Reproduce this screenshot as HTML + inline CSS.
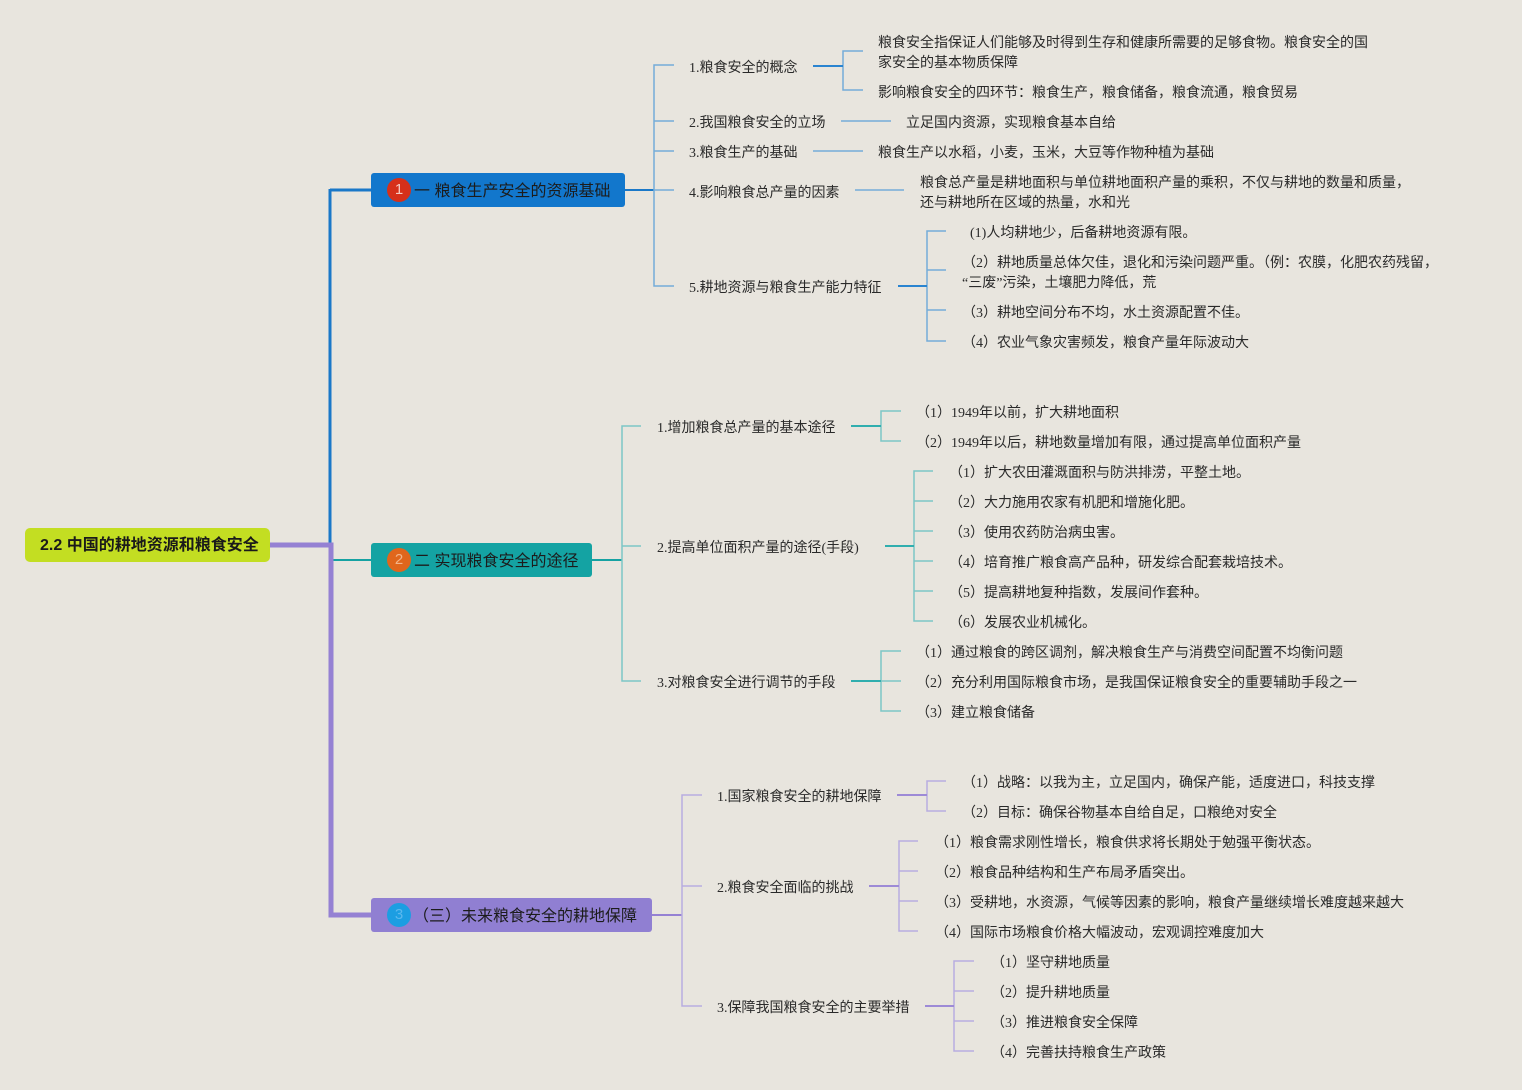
<!DOCTYPE html>
<html><head><meta charset="utf-8">
<style>
*{margin:0;padding:0;box-sizing:border-box}
html,body{width:1522px;height:1090px;overflow:hidden;background:#e8e5de}
body{position:relative;font-family:"Liberation Serif","Noto Sans CJK SC",serif;color:#2a2a2a}
.t{position:absolute;font-size:14px;line-height:20px;white-space:nowrap;margin-top:3px}
.box{position:absolute;height:34px;border-radius:3px;font-family:"Liberation Sans","Noto Sans CJK SC",sans-serif;font-size:16px;line-height:34px;color:#1c1c1c;white-space:nowrap}
.ic{position:absolute;left:16px;top:5px;width:24px;height:24px;border-radius:50%;font-size:15px;line-height:24px;text-align:center;font-family:"Liberation Sans",sans-serif}
.bt{position:absolute;left:43px;top:2px}
svg{position:absolute;left:0;top:0}
</style></head><body>
<svg width="1522" height="1090" fill="none" stroke-linecap="butt">
<polyline points="330,190 371,190" stroke="#1a78c8" stroke-width="3"/>
<line x1="330" y1="189" x2="330" y2="545" stroke="#1a78c8" stroke-width="3"/>
<line x1="331" y1="560" x2="371" y2="560" stroke="#16a2a2" stroke-width="2"/>
<polyline points="270,545 331,545 331,915 371,915" stroke="#9581d3" stroke-width="5"/>

<line x1="624" y1="190" x2="654" y2="190" stroke="#1a78c8" stroke-width="2"/>
<g stroke="#74acd9" stroke-width="1.5">
<polyline points="674,65 654,65 654,286 674,286"/>
<line x1="654" y1="121" x2="674" y2="121"/>
<line x1="654" y1="151" x2="674" y2="151"/>
<line x1="654" y1="190" x2="674" y2="190"/>
<polyline points="863,51 843,51 843,90 863,90"/>
<line x1="841" y1="121" x2="891" y2="121"/>
<line x1="813" y1="151" x2="863" y2="151"/>
<line x1="855" y1="190" x2="904" y2="190"/>
<polyline points="946,231 927,231 927,341 946,341"/>
<line x1="927" y1="270" x2="946" y2="270"/>
<line x1="927" y1="310" x2="946" y2="310"/>
</g>
<g stroke="#2a84d0" stroke-width="2">
<line x1="813" y1="66" x2="843" y2="66"/>
<line x1="898" y1="286" x2="927" y2="286"/>
</g>

<line x1="592" y1="560" x2="622" y2="560" stroke="#16a2a2" stroke-width="2"/>
<g stroke="#7cc6c6" stroke-width="1.5">
<polyline points="641,426 622,426 622,681 641,681"/>
<line x1="622" y1="546" x2="641" y2="546"/>
<polyline points="901,411 881,411 881,441 901,441"/>
<polyline points="933,471 914,471 914,621 933,621"/>
<line x1="914" y1="501" x2="933" y2="501"/>
<line x1="914" y1="531" x2="933" y2="531"/>
<line x1="914" y1="561" x2="933" y2="561"/>
<line x1="914" y1="591" x2="933" y2="591"/>
<polyline points="901,651 881,651 881,711 901,711"/>
<line x1="881" y1="681" x2="901" y2="681"/>
</g>
<g stroke="#30aeae" stroke-width="2">
<line x1="851" y1="426" x2="881" y2="426"/>
<line x1="885" y1="546" x2="914" y2="546"/>
<line x1="851" y1="681" x2="881" y2="681"/>
</g>

<line x1="652" y1="915" x2="682" y2="915" stroke="#9581d3" stroke-width="2"/>
<g stroke="#b8ade0" stroke-width="1.5">
<polyline points="702,795 682,795 682,1006 702,1006"/>
<line x1="682" y1="886" x2="702" y2="886"/>
<polyline points="946,781 927,781 927,811 946,811"/>
<polyline points="918,841 899,841 899,931 918,931"/>
<line x1="899" y1="871" x2="918" y2="871"/>
<line x1="899" y1="901" x2="918" y2="901"/>
<polyline points="974,961 954,961 954,1051 974,1051"/>
<line x1="954" y1="991" x2="974" y2="991"/>
<line x1="954" y1="1021" x2="974" y2="1021"/>
</g>
<g stroke="#9d8ad6" stroke-width="2">
<line x1="897" y1="795" x2="927" y2="795"/>
<line x1="869" y1="886" x2="899" y2="886"/>
<line x1="925" y1="1006" x2="954" y2="1006"/>
</g>
</svg>

<div class="box" style="left:25px;top:528px;width:245px;background:#c3de22;border-radius:5px;font-weight:bold;padding-left:15px;padding-top:2px;line-height:32px;color:#1a1a1a">2.2 中国的耕地资源和粮食安全</div>

<div class="box" style="left:371px;top:173px;width:254px;background:#1277cc">
  <div class="ic" style="background:#d6301a;color:#f4c9c0">1</div>
  <div class="bt">一 粮食生产安全的资源基础</div>
</div>
<div class="box" style="left:371px;top:543px;width:221px;background:#14a3a3">
  <div class="ic" style="background:#e0661c;color:#f2b48a">2</div>
  <div class="bt">二 实现粮食安全的途径</div>
</div>
<div class="box" style="left:371px;top:898px;width:281px;background:#907fd2">
  <div class="ic" style="background:#1c9ee2;color:#5bb8ee">3</div>
  <div class="bt" style="left:42px">（三）未来粮食安全的耕地保障</div>
</div>

<div class="t" style="left:689px;top:56px">1.粮食安全的概念</div>
<div class="t" style="left:878px;top:31px">粮食安全指保证人们能够及时得到生存和健康所需要的足够食物。粮食安全的国<br>家安全的基本物质保障</div>
<div class="t" style="left:878px;top:81px">影响粮食安全的四环节：粮食生产，粮食储备，粮食流通，粮食贸易</div>
<div class="t" style="left:689px;top:111px">2.我国粮食安全的立场</div>
<div class="t" style="left:906px;top:111px">立足国内资源，实现粮食基本自给</div>
<div class="t" style="left:689px;top:141px">3.粮食生产的基础</div>
<div class="t" style="left:878px;top:141px">粮食生产以水稻，小麦，玉米，大豆等作物种植为基础</div>
<div class="t" style="left:689px;top:181px">4.影响粮食总产量的因素</div>
<div class="t" style="left:920px;top:171px">粮食总产量是耕地面积与单位耕地面积产量的乘积，不仅与耕地的数量和质量，<br>还与耕地所在区域的热量，水和光</div>
<div class="t" style="left:689px;top:276px">5.耕地资源与粮食生产能力特征</div>
<div class="t" style="left:970px;top:221px">(1)人均耕地少，后备耕地资源有限。</div>
<div class="t" style="left:962px;top:251px">（2）耕地质量总体欠佳，退化和污染问题严重。（例：农膜，化肥农药残留，<br>“三废”污染，土壤肥力降低，荒</div>
<div class="t" style="left:962px;top:301px">（3）耕地空间分布不均，水土资源配置不佳。</div>
<div class="t" style="left:962px;top:331px">（4）农业气象灾害频发，粮食产量年际波动大</div>

<div class="t" style="left:657px;top:416px">1.增加粮食总产量的基本途径</div>
<div class="t" style="left:916px;top:401px">（1）1949年以前，扩大耕地面积</div>
<div class="t" style="left:916px;top:431px">（2）1949年以后，耕地数量增加有限，通过提高单位面积产量</div>
<div class="t" style="left:657px;top:536px">2.提高单位面积产量的途径(手段)</div>
<div class="t" style="left:949px;top:461px">（1）扩大农田灌溉面积与防洪排涝，平整土地。</div>
<div class="t" style="left:949px;top:491px">（2）大力施用农家有机肥和增施化肥。</div>
<div class="t" style="left:949px;top:521px">（3）使用农药防治病虫害。</div>
<div class="t" style="left:949px;top:551px">（4）培育推广粮食高产品种，研发综合配套栽培技术。</div>
<div class="t" style="left:949px;top:581px">（5）提高耕地复种指数，发展间作套种。</div>
<div class="t" style="left:949px;top:611px">（6）发展农业机械化。</div>
<div class="t" style="left:657px;top:671px">3.对粮食安全进行调节的手段</div>
<div class="t" style="left:916px;top:641px">（1）通过粮食的跨区调剂，解决粮食生产与消费空间配置不均衡问题</div>
<div class="t" style="left:916px;top:671px">（2）充分利用国际粮食市场，是我国保证粮食安全的重要辅助手段之一</div>
<div class="t" style="left:916px;top:701px">（3）建立粮食储备</div>

<div class="t" style="left:717px;top:785px">1.国家粮食安全的耕地保障</div>
<div class="t" style="left:962px;top:771px">（1）战略：以我为主，立足国内，确保产能，适度进口，科技支撑</div>
<div class="t" style="left:962px;top:801px">（2）目标：确保谷物基本自给自足，口粮绝对安全</div>
<div class="t" style="left:717px;top:876px">2.粮食安全面临的挑战</div>
<div class="t" style="left:935px;top:831px">（1）粮食需求刚性增长，粮食供求将长期处于勉强平衡状态。</div>
<div class="t" style="left:935px;top:861px">（2）粮食品种结构和生产布局矛盾突出。</div>
<div class="t" style="left:935px;top:891px">（3）受耕地，水资源，气候等因素的影响，粮食产量继续增长难度越来越大</div>
<div class="t" style="left:935px;top:921px">（4）国际市场粮食价格大幅波动，宏观调控难度加大</div>
<div class="t" style="left:717px;top:996px">3.保障我国粮食安全的主要举措</div>
<div class="t" style="left:991px;top:951px">（1）坚守耕地质量</div>
<div class="t" style="left:991px;top:981px">（2）提升耕地质量</div>
<div class="t" style="left:991px;top:1011px">（3）推进粮食安全保障</div>
<div class="t" style="left:991px;top:1041px">（4）完善扶持粮食生产政策</div>
</body></html>
